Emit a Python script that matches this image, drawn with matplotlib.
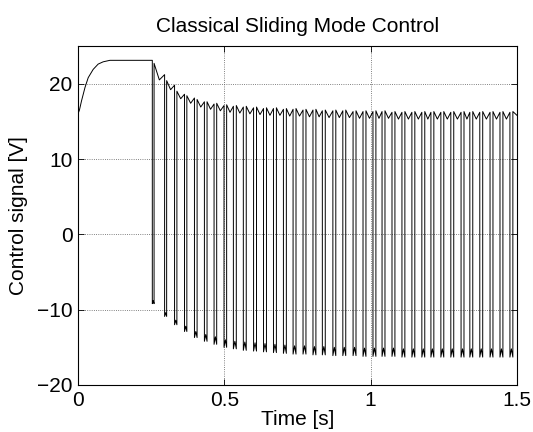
import numpy as np
import matplotlib.pyplot as plt

# =====================================================
# DATA
# =====================================================

# start-up part before chattering
init_t = [0.0, 0.005, 0.012, 0.024, 0.035, 0.052, 0.069, 0.086, 0.109, 0.254]
init_u = [16.0, 16.5, 17.7, 19.5, 20.8, 21.9, 22.6, 22.9, 23.1, 23.1]

# switching instants (high -> low) and time spent low
pulse_t = [0.254, 0.296, 0.330, 0.364, 0.398, 0.432, 0.465, 0.499, 0.531,
           0.565, 0.600, 0.634, 0.668, 0.702, 0.735, 0.769, 0.803, 0.835,
           0.871, 0.905, 0.940, 0.974, 1.008, 1.039, 1.073, 1.107, 1.141,
           1.175, 1.206, 1.240, 1.274, 1.309, 1.339, 1.373, 1.408, 1.442,
           1.476]
pulse_w = [0.006, 0.007, 0.008, 0.008, 0.009, 0.009, 0.009, 0.009, 0.010,
           0.010, 0.010, 0.010, 0.010, 0.010, 0.010, 0.010, 0.010, 0.010,
           0.010, 0.010, 0.010, 0.010, 0.010, 0.010, 0.010, 0.010, 0.010,
           0.010, 0.010, 0.010, 0.010, 0.010, 0.010, 0.010, 0.010, 0.010,
           0.010]

# low level of each pulse (edges and small bump)
low_end = [-9.2, -10.9, -12.0, -12.9, -13.7, -14.2, -14.6, -15.0, -15.2,
           -15.4, -15.5, -15.6, -15.7, -15.8, -15.9, -15.9, -16.0, -16.0,
           -16.1, -16.1, -16.1, -16.2, -16.2, -16.2, -16.2, -16.3, -16.3,
           -16.3, -16.3, -16.3, -16.3, -16.3, -16.3, -16.3, -16.3, -16.3,
           -16.3]
low_bump = [-8.8, -10.4, -11.4, -12.2, -12.9, -13.3, -13.6, -14.0, -14.2,
            -14.3, -14.4, -14.5, -14.6, -14.7, -14.8, -14.8, -14.9, -14.9,
            -15.0, -15.0, -15.0, -15.1, -15.1, -15.1, -15.1, -15.2, -15.2,
            -15.2, -15.2, -15.2, -15.2, -15.2, -15.2, -15.2, -15.2, -15.2,
            -15.2]

# high level after each pulse: peak, dip, value before next switch
high_a = [22.7, 20.4, 19.0, 18.4, 17.9, 17.6, 17.4, 17.2, 17.1, 17.0,
          16.9, 16.8, 16.8, 16.7, 16.7, 16.6, 16.6, 16.5, 16.5, 16.5,
          16.4, 16.4, 16.4, 16.4, 16.3, 16.3, 16.3, 16.3, 16.3, 16.3,
          16.3, 16.3, 16.3, 16.3, 16.3, 16.3, 16.3]
high_dip = [20.5, 19.2, 18.0, 17.4, 16.9, 16.6, 16.4, 16.2, 16.1, 16.0,
            15.9, 15.8, 15.8, 15.7, 15.7, 15.6, 15.6, 15.5, 15.5, 15.5,
            15.4, 15.4, 15.4, 15.4, 15.3, 15.3, 15.3, 15.3, 15.3, 15.3,
            15.3, 15.3, 15.3, 15.3, 15.3, 15.3, 15.3]
high_b = [21.2, 19.8, 18.6, 18.1, 17.6, 17.3, 17.1, 17.0, 16.9, 16.8,
          16.7, 16.7, 16.6, 16.6, 16.5, 16.5, 16.4, 16.4, 16.4, 16.3,
          16.3, 16.3, 16.3, 16.2, 16.2, 16.2, 16.2, 16.2, 16.2, 16.2,
          16.2, 16.2, 16.2, 16.2, 16.2, 16.2]
end_u = 15.8

# =====================================================
# BUILD POLYLINE
# =====================================================

t = list(init_t)
u = list(init_u)

for i in range(len(pulse_t)):

    td = pulse_t[i]
    tu = td + pulse_w[i]

    if i > 0:
        t.append(td)
        u.append(high_b[i - 1])

    t += [td, td + pulse_w[i] / 2, tu, tu]
    u += [low_end[i], low_bump[i], low_end[i], high_a[i]]

    if i + 1 < len(pulse_t):
        t.append((tu + pulse_t[i + 1]) / 2)
        u.append(high_dip[i])

t += [1.5]
u += [end_u]

# =====================================================
# PLOT
# =====================================================

plt.rcParams["font.family"] = ["Liberation Sans", "DejaVu Sans"]

fig = plt.figure(figsize=(5.33, 4.32), dpi=100)
ax = fig.add_axes([0.1463, 0.1088, 0.8236, 0.7847])

ax.plot(t, u, color="black", linewidth=0.7)

ax.set_xlim(0, 1.5)
ax.set_ylim(-20, 25)
ax.set_xticks([0, 0.5, 1, 1.5])
ax.set_xticklabels(["0", "0.5", "1", "1.5"])
ax.set_yticks([-20, -10, 0, 10, 20])

ax.grid(True, linestyle=":", color="0.35", linewidth=0.6)
ax.tick_params(direction="in", top=True, right=True, labelsize=15,
               length=4, width=0.6, pad=4)
for s in ax.spines.values():
    s.set_linewidth(0.8)

ax.set_xlabel("Time [s]", fontsize=15, labelpad=0)
ax.set_ylabel("Control signal [V]", fontsize=15, labelpad=6)
ax.set_title("Classical Sliding Mode Control", fontsize=15, pad=10)

fig.savefig("out.png", dpi=100)
